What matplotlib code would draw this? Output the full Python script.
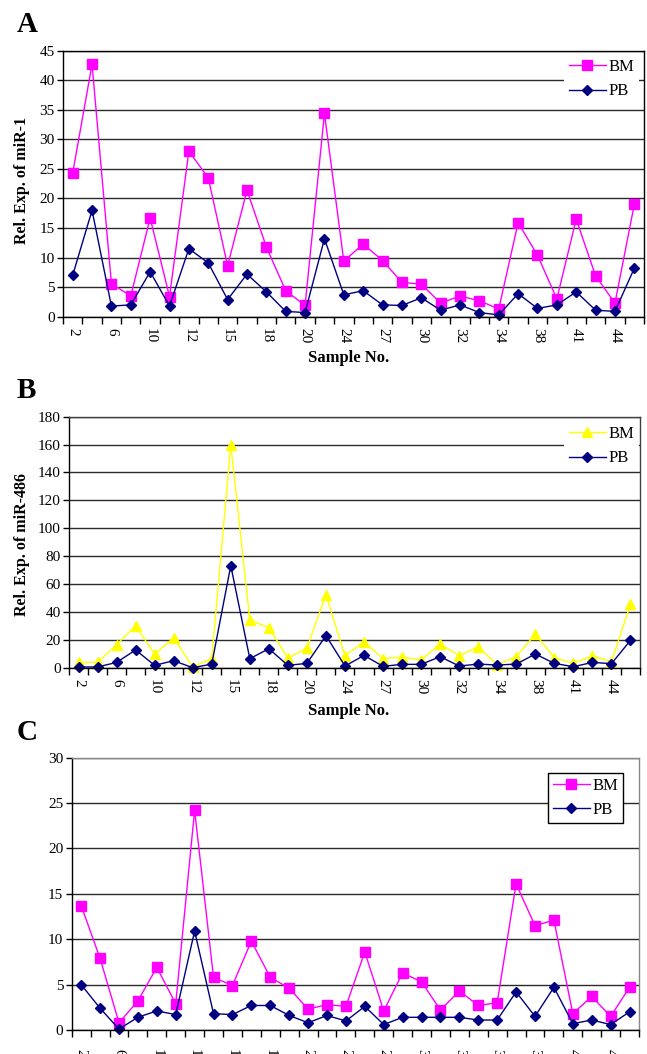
import matplotlib
matplotlib.use("Agg")
import matplotlib.pyplot as plt
import numpy as np

plt.rcParams['font.family'] = ['Liberation Serif', 'DejaVu Serif']

# ---------------- data ----------------
tick_labels = ['2', '6', '10', '12', '15', '18', '20', '24', '27', '30', '32', '34', '38', '41', '44']

a_bm = [24.3, 42.7, 5.6, 3.5, 16.7, 3.4, 28.0, 23.5, 8.6, 21.4, 11.8, 4.4, 1.9, 34.4,
        9.4, 12.3, 9.5, 5.8, 5.5, 2.3, 3.5, 2.7, 1.3, 15.9, 10.4, 3.0, 16.5, 6.9, 2.3, 19.0]
a_pb = [7.0, 18.0, 1.8, 2.0, 7.6, 1.8, 11.5, 9.1, 2.9, 7.2, 4.2, 0.9, 0.7, 13.2,
        3.7, 4.4, 2.0, 1.9, 3.2, 1.1, 2.0, 0.7, 0.3, 3.9, 1.4, 2.0, 4.2, 1.1, 0.9, 8.2]

b_bm = [3.8, 3.8, 16.5, 30.1, 9.6, 21.5, 0.7, 6.5, 160.0, 34.2, 28.7, 6.9, 14.1, 52.4,
        8.6, 18.6, 6.5, 7.6, 5.5, 17.0, 8.6, 14.8, 2.2, 7.9, 24.1, 7.2, 3.1, 8.6, 4.3, 45.4]
b_pb = [0.5, 0.5, 3.8, 12.7, 1.7, 5.0, 0.0, 2.6, 73.2, 6.5, 13.6, 1.7, 3.1, 23.0,
        1.2, 8.8, 1.0, 2.4, 2.4, 7.9, 1.2, 2.6, 1.9, 2.6, 9.8, 3.1, 0.7, 3.8, 2.9, 19.6]

c_bm = [13.7, 7.9, 0.8, 3.2, 6.9, 2.9, 24.2, 5.8, 4.9, 9.8, 5.8, 4.6, 2.3, 2.8,
        2.6, 8.6, 2.1, 6.3, 5.3, 2.2, 4.3, 2.7, 3.0, 16.1, 11.5, 12.1, 1.8, 3.7, 1.5, 4.7]
c_pb = [5.0, 2.4, 0.1, 1.4, 2.1, 1.7, 10.9, 1.8, 1.7, 2.7, 2.7, 1.6, 0.8, 1.6,
        1.0, 2.6, 0.6, 1.4, 1.4, 1.4, 1.4, 1.1, 1.1, 4.2, 1.5, 4.7, 0.7, 1.1, 0.6, 2.0]

MAGENTA = '#FF00FF'
NAVY = '#000080'
YELLOW = '#FFFF00'

W, H = 647, 1054
fig = plt.figure(figsize=(W / 100, H / 100), dpi=100)


def rect(l, t, r, b):
    return [l / W, 1 - b / H, (r - l) / W, (b - t) / H]


def style_axis(ax, ymax, ystep, spine_col='black', xpad=8):
    n = len(a_bm)
    x = np.arange(n)
    ax.set_xlim(-0.5, n - 0.5)
    ax.set_ylim(0, ymax)
    ax.set_yticks(np.arange(0, ymax + 0.1, ystep))
    ax.set_xticks(x[::2])
    ax.set_xticklabels(tick_labels, rotation=270, fontsize=11)
    ax.set_xticks(np.arange(-0.5, n, 1), minor=True)
    ax.tick_params(axis='x', which='major', length=0, pad=xpad)
    ax.tick_params(axis='x', which='minor', length=5, width=1, color='black')
    ax.tick_params(axis='y', length=4, width=1, pad=2, labelsize=11)
    ax.yaxis.grid(True, color='#2a2a2a', lw=1)
    ax.set_axisbelow(True)
    for s in ['left', 'bottom']:
        ax.spines[s].set_color('black')
        ax.spines[s].set_linewidth(1)
    for s in ['top', 'right']:
        ax.spines[s].set_color(spine_col)
        ax.spines[s].set_linewidth(1)
    return x


LEG = dict(fontsize=12, handlelength=2.2, handletextpad=0.15, borderpad=0.3, labelspacing=0.5,
           borderaxespad=0, fancybox=False, framealpha=1, facecolor='white')

# ---------------- Panel A ----------------
axA = fig.add_axes(rect(63, 50.7, 644, 316.7))
x = style_axis(axA, 45, 5)
axA.plot(x, a_bm, color=MAGENTA, lw=1, marker='s', ms=6.5, mfc=MAGENTA, mec=MAGENTA, label='BM', clip_on=False)
axA.plot(x, a_pb, color=NAVY, lw=1, marker='D', ms=5.5, mfc=NAVY, mec=NAVY, label='PB', clip_on=False)
axA.legend(loc='upper right', bbox_to_anchor=(639 / W, 1 - 54 / H), bbox_transform=fig.transFigure,
           frameon=True, edgecolor='none', **LEG)
fig.text(17 / W, 1 - 25 / H, 'A', fontsize=21, fontweight='bold', va='center', ha='left')
fig.text(22 / W, 1 - 180 / H, 'Rel. Exp. of miR-1', rotation=90, fontsize=11.5, fontweight='bold',
         va='center', ha='center')
fig.text(349 / W, 1 - 358 / H, 'Sample No.', fontsize=12, fontweight='bold', va='center', ha='center')

# ---------------- Panel B ----------------
axB = fig.add_axes(rect(69, 416.7, 640, 667.7))
x = style_axis(axB, 180, 20, spine_col='#404040')
axB.plot(x, b_bm, color=YELLOW, lw=1, marker='^', ms=7, mfc=YELLOW, mec=YELLOW, label='BM', clip_on=False)
axB.plot(x, b_pb, color=NAVY, lw=1, marker='D', ms=5.5, mfc=NAVY, mec=NAVY, label='PB', clip_on=False)
axB.legend(loc='upper right', bbox_to_anchor=(639 / W, 1 - 421 / H), bbox_transform=fig.transFigure,
           frameon=True, edgecolor='none', **LEG)
fig.text(17 / W, 1 - 391 / H, 'B', fontsize=21, fontweight='bold', va='center', ha='left')
fig.text(22 / W, 1 - 545 / H, 'Rel. Exp. of miR-486', rotation=90, fontsize=11.5, fontweight='bold',
         va='center', ha='center')
fig.text(349 / W, 1 - 711 / H, 'Sample No.', fontsize=12, fontweight='bold', va='center', ha='center')

# ---------------- Panel C ----------------
axC = fig.add_axes(rect(71.7, 757.7, 639, 1030))
x = style_axis(axC, 30, 5, spine_col='#888888', xpad=14)
axC.plot(x, c_bm, color=MAGENTA, lw=1, marker='s', ms=6.5, mfc=MAGENTA, mec=MAGENTA, label='BM', clip_on=False)
axC.plot(x, c_pb, color=NAVY, lw=1, marker='D', ms=5.5, mfc=NAVY, mec=NAVY, label='PB', clip_on=False)
legC = axC.legend(loc='upper right', bbox_to_anchor=(623 / W, 1 - 773 / H), bbox_transform=fig.transFigure,
                  frameon=True, edgecolor='black', **LEG)
legC.get_frame().set_linewidth(1)
fig.text(17 / W, 1 - 732 / H, 'C', fontsize=21, fontweight='bold', va='center', ha='left')

fig.savefig('out.png', dpi=100)
